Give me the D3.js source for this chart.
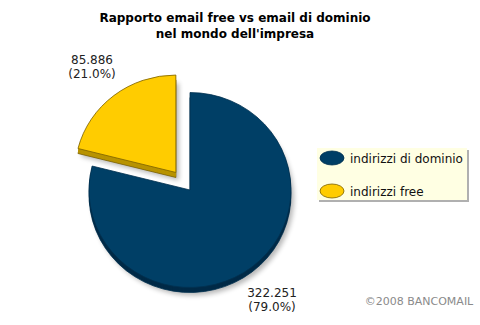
<!DOCTYPE html>
<html>
<head>
<meta charset="utf-8">
<script src="https://cdn.jsdelivr.net/npm/d3@7"></script>
<style>
  html, body { margin: 0; padding: 0; background: #ffffff; }
  svg { display: block; font-family: "DejaVu Sans", Verdana, sans-serif; }
</style>
</head>
<body>
<svg id="chart" width="480" height="325"></svg>
<script>
// Chart data
const categories = ["indirizzi di dominio", "indirizzi free"];
const values = [322251, 85886];
const valueLabels = ["322.251", "85.886"];
const percentLabels = ["(79.0%)", "(21.0%)"];
const titleLines = ["Rapporto email free vs email di dominio", "nel mondo dell'impresa"];
const credit = "©2008 BANCOMAIL";

const topColors = ["#003f66", "#ffcc00"];
const sideColors = ["#002a47", "#b89300"];
const edgeColors = ["#00304f", "#7a6000"];

const svg = d3.select("#chart");

// Title
svg.append("g").selectAll("text")
  .data(titleLines)
  .join("text")
  .attr("x", 235)
  .attr("y", (d, i) => 22 + i * 16)
  .attr("text-anchor", "middle")
  .attr("font-size", 12)
  .attr("font-weight", "bold")
  .attr("fill", "#000")
  .text(d => d);

// Pie
const cx = 190, cy = 190, r = 101, squash = 0.965, depth = 5, explode = 23;
const pie = d3.pie().sort(null).value(d => d);
const arcs = pie(values);
const arc = d3.arc().innerRadius(0).outerRadius(r);

const defs = svg.append("defs");
defs.append("filter").attr("id", "soft")
  .attr("x", "-20%").attr("y", "-20%").attr("width", "140%").attr("height", "140%")
  .append("feGaussianBlur").attr("stdDeviation", 2.5);

const explodeOffset = (d, i) => {
  if (i === 0) return [0, 0];
  const mid = (d.startAngle + d.endAngle) / 2;
  return [Math.sin(mid) * explode, -Math.cos(mid) * explode * squash];
};

const pieG = svg.append("g");

// Soft shadow under each slice
pieG.selectAll("g.shadow")
  .data(arcs)
  .join("g")
  .attr("class", "shadow")
  .attr("transform", (d, i) => {
    const o = explodeOffset(d, i);
    return `translate(${cx + o[0] + 3},${cy + o[1] + depth + 3}) scale(1,${squash})`;
  })
  .append("path")
  .attr("d", arc)
  .attr("fill", "#000")
  .attr("opacity", 0.28)
  .attr("filter", "url(#soft)");

// Side band (thickness) then top face for each slice
arcs.forEach((d, i) => {
  const o = explodeOffset(d, i);
  const g = pieG.append("g");
  for (let k = depth; k >= 1; k--) {
    g.append("path")
      .attr("transform", `translate(${cx + o[0]},${cy + o[1] + k}) scale(1,${squash})`)
      .attr("d", arc(d))
      .attr("fill", sideColors[i])
      .attr("stroke", k === depth ? edgeColors[i] : "none")
      .attr("stroke-width", 0.8)
      .attr("vector-effect", "non-scaling-stroke");
  }
  g.append("path")
    .attr("transform", `translate(${cx + o[0]},${cy + o[1]}) scale(1,${squash})`)
    .attr("d", arc(d))
    .attr("fill", topColors[i])
    .attr("stroke", edgeColors[i])
    .attr("stroke-width", 0.8)
    .attr("vector-effect", "non-scaling-stroke");
});

// Value labels
const labelPos = [[272, 297], [92, 64]];
const labG = svg.append("g");
arcs.forEach((d, i) => {
  const t = labG.append("text")
    .attr("x", labelPos[i][0])
    .attr("y", labelPos[i][1])
    .attr("text-anchor", "middle")
    .attr("font-size", 12)
    .attr("fill", "#222");
  t.append("tspan").attr("x", labelPos[i][0]).text(valueLabels[i]);
  t.append("tspan").attr("x", labelPos[i][0]).attr("dy", 14).text(percentLabels[i]);
});

// Legend
const lx = 317, ly = 148, lw = 150, lh = 52;
const leg = svg.append("g");
leg.append("rect")
  .attr("x", lx + 2).attr("y", ly + 2).attr("width", lw).attr("height", lh)
  .attr("fill", "#b0b0b0");
leg.append("rect")
  .attr("x", lx).attr("y", ly).attr("width", lw).attr("height", lh)
  .attr("fill", "#ffffe3");
const item = leg.selectAll("g.item")
  .data(categories)
  .join("g")
  .attr("class", "item")
  .attr("transform", (d, i) => `translate(${lx},${ly + 10 + i * 33})`);
item.append("ellipse")
  .attr("cx", 15).attr("cy", 0)
  .attr("rx", 12).attr("ry", 7)
  .attr("fill", (d, i) => topColors[i])
  .attr("stroke", (d, i) => edgeColors[i])
  .attr("stroke-width", 0.8);
item.append("text")
  .attr("x", 33).attr("y", 4.5)
  .attr("font-size", 12)
  .attr("fill", "#111")
  .text(d => d);

// Credit line
svg.append("text")
  .attr("x", 419).attr("y", 305)
  .attr("text-anchor", "middle")
  .attr("font-size", 11)
  .attr("fill", "#8a8a8a")
  .text(credit);
</script>
</body>
</html>
